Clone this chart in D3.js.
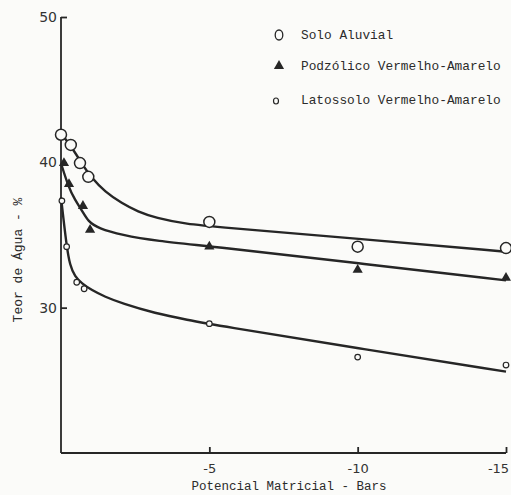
<!DOCTYPE html>
<html>
<head>
<meta charset="utf-8">
<script src="https://cdn.jsdelivr.net/npm/d3@7"></script>
<style>
  body { margin: 0; background: #fbfbf9; }
  .mono { font-family: "Liberation Mono", "DejaVu Sans Mono", monospace; fill: #2b2b2b; }
  .tick text { font-family: "DejaVu Sans", sans-serif; fill: #333; }
</style>
</head>
<body>
<div id="chart"></div>
<script>
// tick labels
var xTicks = [-5, -10, -15];
var yTicks = [30, 40, 50];

// series names
var seriesNames = ["Solo Aluvial", "Podzólico Vermelho-Amarelo", "Latossolo Vermelho-Amarelo"];

// measured points
var aluvialX = [0, -0.33, -0.64, -0.92, -5, -10, -15];
var aluvialY = [41.9, 41.2, 39.95, 39.0, 35.9, 34.2, 34.1];
var podzolX = [-0.1, -0.27, -0.74, -0.98, -5, -10, -15];
var podzolY = [39.95, 38.5, 37.0, 35.35, 34.2, 32.6, 32.05];
var latoX = [-0.03, -0.19, -0.53, -0.78, -5, -10, -15];
var latoY = [37.35, 34.2, 31.75, 31.3, 28.9, 26.6, 26.05];

// fitted curves
var aluvialCurveX = [0, -0.35, -0.7, -1.03, -1.48, -2.05, -2.6, -3.17, -4.28, -5.2, -10, -15];
var aluvialCurveY = [42.0, 41.07, 39.93, 38.92, 37.98, 37.18, 36.6, 36.19, 35.73, 35.57, 34.74, 33.85];
var podzolCurveX = [0, -0.25, -0.47, -0.7, -0.92, -1.26, -2.05, -3.17, -5.2, -10, -15];
var podzolCurveY = [39.93, 38.32, 37.41, 36.72, 35.91, 35.46, 35.0, 34.6, 34.19, 33.06, 31.88];
var latoCurveX = [0, -0.19, -0.3, -0.47, -0.7, -1.03, -1.48, -2.05, -3.17, -4.28, -5.2, -10, -15];
var latoCurveY = [37.6, 34.19, 32.93, 32.13, 31.67, 31.21, 30.75, 30.3, 29.61, 29.15, 28.8, 27.21, 25.6];

var svgWidth = 511;
var svgHeight = 495;

var svg = d3.select("#chart")
    .append("svg")
    .attr("width", svgWidth)
    .attr("height", svgHeight);

var xScale = d3.scaleLinear()
    .domain([0, -15])
    .range([61, 506]);

var yScale = d3.scaleLinear()
    .domain([20, 50])
    .range([453, 17]);

var ink = "#262626";

// axes
var xAxis = d3.axisBottom(xScale)
    .tickValues(xTicks)
    .tickSize(-6)
    .tickPadding(8)
    .tickFormat(d => d);
var yAxis = d3.axisLeft(yScale)
    .tickValues(yTicks)
    .tickSize(-6)
    .tickPadding(4);

var gx = svg.append("g")
    .attr("transform", `translate(0, ${yScale(20)})`)
    .call(xAxis);
gx.select(".domain").attr("d", `M${xScale(0)},0H${xScale(-15)}`);
gx.selectAll("line, path").attr("stroke", ink).attr("stroke-width", 1.8);
gx.selectAll(".tick text").attr("font-size", 13).attr("dy", "0.9em");
gx.selectAll(".tick text").filter(d => d === -15).attr("dx", -8);

var gy = svg.append("g")
    .attr("transform", `translate(${xScale(0)}, 0)`)
    .call(yAxis);
gy.select(".domain").attr("d", `M0,${yScale(50)}V${yScale(20)}`);
gy.selectAll("line, path").attr("stroke", ink).attr("stroke-width", 1.8);
gy.selectAll(".tick text").attr("font-size", 14);

// axis titles
svg.append("text")
    .attr("class", "mono")
    .attr("x", 289)
    .attr("y", 490)
    .attr("text-anchor", "middle")
    .attr("font-size", 12.5)
    .text("Potencial Matricial - Bars");

svg.append("text")
    .attr("class", "mono")
    .attr("transform", "rotate(-90)")
    .attr("x", -260)
    .attr("y", 22)
    .attr("text-anchor", "middle")
    .attr("font-size", 13)
    .text("Teor de Água - %");

// curves
var line = d3.line()
    .x(d => xScale(d[0]))
    .y(d => yScale(d[1]))
    .curve(d3.curveBasis);

var curves = [
    d3.zip(aluvialCurveX, aluvialCurveY),
    d3.zip(podzolCurveX, podzolCurveY),
    d3.zip(latoCurveX, latoCurveY)
];

svg.append("g").selectAll("path")
    .data(curves)
    .enter()
    .append("path")
    .attr("d", line)
    .attr("fill", "none")
    .attr("stroke", ink)
    .attr("stroke-width", 2.4);

// markers
var aluvial = d3.zip(aluvialX, aluvialY);
var podzol = d3.zip(podzolX, podzolY);
var lato = d3.zip(latoX, latoY);

svg.append("g").selectAll("circle")
    .data(aluvial)
    .enter()
    .append("circle")
    .attr("cx", d => xScale(d[0]))
    .attr("cy", d => yScale(d[1]))
    .attr("r", 5.5)
    .attr("fill", "#fbfbf9")
    .attr("stroke", ink)
    .attr("stroke-width", 1.5);

var tri = d3.symbol().type(d3.symbolTriangle).size(45);
svg.append("g").selectAll("path")
    .data(podzol)
    .enter()
    .append("path")
    .attr("d", tri)
    .attr("transform", d => `translate(${xScale(d[0])}, ${yScale(d[1])})`)
    .attr("fill", ink);

svg.append("g").selectAll("circle")
    .data(lato)
    .enter()
    .append("circle")
    .attr("cx", d => xScale(d[0]))
    .attr("cy", d => yScale(d[1]))
    .attr("r", 2.8)
    .attr("fill", "#fbfbf9")
    .attr("stroke", ink)
    .attr("stroke-width", 1.2);

// legend
var legend = svg.append("g");
var legendY = [35, 66, 100];

legend.append("ellipse")
    .attr("cx", 279).attr("cy", legendY[0])
    .attr("rx", 3.8).attr("ry", 5)
    .attr("fill", "none").attr("stroke", ink).attr("stroke-width", 1.3);
legend.append("path")
    .attr("d", tri)
    .attr("transform", `translate(279, ${legendY[1]})`)
    .attr("fill", ink);
legend.append("ellipse")
    .attr("cx", 276).attr("cy", legendY[2] + 1)
    .attr("rx", 2.5).attr("ry", 3)
    .attr("fill", "none").attr("stroke", ink).attr("stroke-width", 1.2);

legend.selectAll("text")
    .data(seriesNames)
    .enter()
    .append("text")
    .attr("class", "mono")
    .attr("x", 301)
    .attr("y", (d, i) => legendY[i])
    .attr("dy", "0.35em")
    .attr("font-size", 12.8)
    .text(d => d);
</script>
</body>
</html>
